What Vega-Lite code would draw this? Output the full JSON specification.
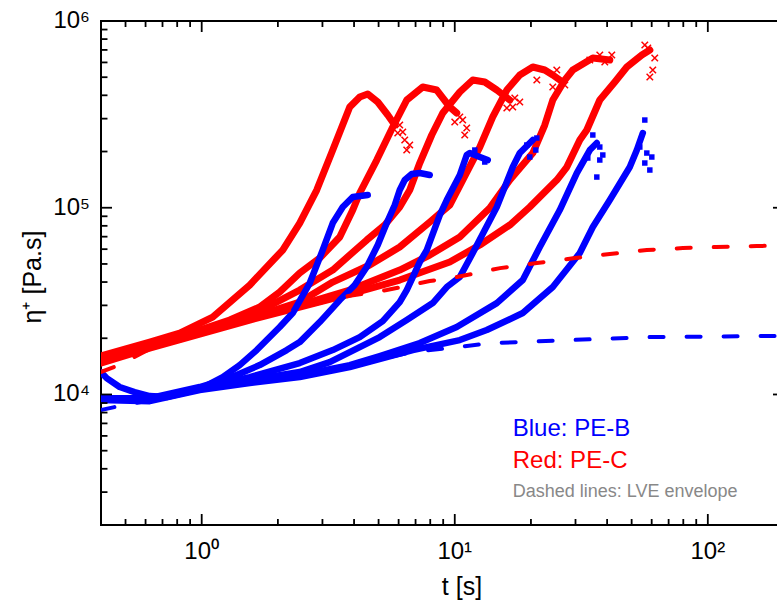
{
"$schema": "https://vega.github.io/schema/vega-lite/v6.json",
"width": 683, "height": 504,
"autosize": "none",
"padding": {"left": 101, "top": 21, "right": 0, "bottom": 88},
"background": "white",
"config": {"view": {"stroke": "#000000", "strokeWidth": 2}, "font": "Liberation Sans"},
"datasets": {
"curves": [
{"s":"R1","k":"p","t":0.399,"e":16060},{"s":"R1","k":"p","t":0.623,"e":19080},{"s":"R1","k":"p","t":0.819,"e":21320},{"s":"R1","k":"p","t":1.105,"e":25970},{"s":"R1","k":"p","t":1.548,"e":38550},{"s":"R1","k":"p","t":2.09,"e":59340},{"s":"R1","k":"p","t":2.44,"e":82800},{"s":"R1","k":"p","t":2.848,"e":124400},{"s":"R1","k":"p","t":3.295,"e":203700},{"s":"R1","k":"p","t":3.846,"e":346300},{"s":"R1","k":"p","t":4.213,"e":391700},{"s":"R1","k":"p","t":4.53,"e":406500},{"s":"R1","k":"p","t":4.962,"e":368300},{"s":"R1","k":"p","t":5.436,"e":313800},{"s":"R1","k":"p","t":5.793,"e":277300},
{"s":"R1","k":"x","t":6.061,"e":277300},{"s":"R1","k":"x","t":6.343,"e":230500},{"s":"R1","k":"x","t":6.639,"e":216700},{"s":"R1","k":"x","t":6.46,"e":203700},{"s":"R1","k":"x","t":5.953,"e":251300},{"s":"R1","k":"x","t":6.231,"e":254400},
{"s":"R2","k":"p","t":0.399,"e":15670},{"s":"R2","k":"p","t":0.623,"e":18620},{"s":"R2","k":"p","t":0.982,"e":22130},{"s":"R2","k":"p","t":1.29,"e":25030},{"s":"R2","k":"p","t":1.695,"e":29380},{"s":"R2","k":"p","t":2.034,"e":35360},{"s":"R2","k":"p","t":2.44,"e":44710},{"s":"R2","k":"p","t":2.927,"e":53780},{"s":"R2","k":"p","t":3.512,"e":69700},{"s":"R2","k":"p","t":3.953,"e":97200},{"s":"R2","k":"p","t":4.213,"e":119900},{"s":"R2","k":"p","t":4.917,"e":180100},{"s":"R2","k":"p","t":5.688,"e":270500},{"s":"R2","k":"p","t":6.46,"e":377500},{"s":"R2","k":"p","t":7.473,"e":443100},{"s":"R2","k":"p","t":8.489,"e":427000},{"s":"R2","k":"p","t":9.555,"e":346300},{"s":"R2","k":"p","t":10.18,"e":321600},
{"s":"R2","k":"x","t":10.47,"e":306200},{"s":"R2","k":"x","t":10.75,"e":294900},{"s":"R2","k":"x","t":11.15,"e":267300},{"s":"R2","k":"x","t":10.0,"e":287700},{"s":"R2","k":"x","t":10.95,"e":245200},
{"s":"R3","k":"p","t":0.399,"e":15290},{"s":"R3","k":"p","t":0.623,"e":18160},{"s":"R3","k":"p","t":0.982,"e":21590},{"s":"R3","k":"p","t":1.548,"e":26300},{"s":"R3","k":"p","t":2.44,"e":36240},{"s":"R3","k":"p","t":3.295,"e":46390},{"s":"R3","k":"p","t":4.489,"e":67140},{"s":"R3","k":"p","t":5.289,"e":80800},{"s":"R3","k":"p","t":6.061,"e":100900},{"s":"R3","k":"p","t":6.639,"e":124400},{"s":"R3","k":"p","t":7.272,"e":173600},{"s":"R3","k":"p","t":8.11,"e":245200},{"s":"R3","k":"p","t":8.966,"e":321600},{"s":"R3","k":"p","t":10.47,"e":416700},{"s":"R3","k":"p","t":11.78,"e":483100},{"s":"R3","k":"p","t":13.14,"e":471300},{"s":"R3","k":"p","t":14.66,"e":427000},{"s":"R3","k":"p","t":16.5,"e":377500},
{"s":"R3","k":"x","t":16.95,"e":346300},{"s":"R3","k":"x","t":16.06,"e":342000},{"s":"R3","k":"x","t":17.27,"e":387000},{"s":"R3","k":"x","t":18.07,"e":368300},
{"s":"R4","k":"p","t":0.399,"e":15100},{"s":"R4","k":"p","t":0.623,"e":18160},{"s":"R4","k":"p","t":0.982,"e":21320},{"s":"R4","k":"p","t":1.548,"e":25660},{"s":"R4","k":"p","t":2.44,"e":31250},{"s":"R4","k":"p","t":3.295,"e":39990},{"s":"R4","k":"p","t":4.613,"e":49340},{"s":"R4","k":"p","t":6.061,"e":61600},{"s":"R4","k":"p","t":7.964,"e":83800},{"s":"R4","k":"p","t":9.555,"e":103400},{"s":"R4","k":"p","t":10.75,"e":140700},{"s":"R4","k":"p","t":12.56,"e":211400},{"s":"R4","k":"p","t":14.13,"e":306200},{"s":"R4","k":"p","t":16.06,"e":427000},{"s":"R4","k":"p","t":18.07,"e":513800},{"s":"R4","k":"p","t":20.34,"e":567100},{"s":"R4","k":"p","t":22.68,"e":546500},{"s":"R4","k":"p","t":24.4,"e":513800},{"s":"R4","k":"p","t":26.0,"e":483100},
{"s":"R4","k":"x","t":25.3,"e":546500},{"s":"R4","k":"x","t":24.4,"e":443100},{"s":"R4","k":"x","t":21.1,"e":483100},{"s":"R4","k":"x","t":27.22,"e":454200},
{"s":"R5","k":"p","t":0.399,"e":14910},{"s":"R5","k":"p","t":0.623,"e":17940},{"s":"R5","k":"p","t":0.982,"e":21320},{"s":"R5","k":"p","t":1.548,"e":25660},{"s":"R5","k":"p","t":2.44,"e":30120},{"s":"R5","k":"p","t":3.846,"e":36240},{"s":"R5","k":"p","t":6.061,"e":46390},{"s":"R5","k":"p","t":7.964,"e":55800},{"s":"R5","k":"p","t":10.47,"e":69700},{"s":"R5","k":"p","t":13.75,"e":99600},{"s":"R5","k":"p","t":16.5,"e":140700},{"s":"R5","k":"p","t":20.34,"e":196300},{"s":"R5","k":"p","t":22.68,"e":277300},{"s":"R5","k":"p","t":24.4,"e":377500},{"s":"R5","k":"p","t":27.22,"e":483100},{"s":"R5","k":"p","t":29.27,"e":546500},{"s":"R5","k":"p","t":35.12,"e":633800},{"s":"R5","k":"p","t":40.99,"e":618300},
{"s":"R5","k":"x","t":37.42,"e":657600},{"s":"R5","k":"x","t":39.16,"e":603000},{"s":"R5","k":"x","t":34.17,"e":618300},{"s":"R5","k":"x","t":41.74,"e":657600},
{"s":"R6","k":"p","t":0.399,"e":14730},{"s":"R6","k":"p","t":0.623,"e":17720},{"s":"R6","k":"p","t":0.982,"e":21060},{"s":"R6","k":"p","t":1.548,"e":25030},{"s":"R6","k":"p","t":2.44,"e":29380},{"s":"R6","k":"p","t":3.846,"e":34500},{"s":"R6","k":"p","t":6.061,"e":41010},{"s":"R6","k":"p","t":9.555,"e":51200},{"s":"R6","k":"p","t":12.56,"e":63140},{"s":"R6","k":"p","t":16.5,"e":80800},{"s":"R6","k":"p","t":19.79,"e":100900},{"s":"R6","k":"p","t":25.3,"e":140700},{"s":"R6","k":"p","t":27.72,"e":165200},{"s":"R6","k":"p","t":31.2,"e":230500},{"s":"R6","k":"p","t":33.25,"e":260800},{"s":"R6","k":"p","t":37.42,"e":377500},{"s":"R6","k":"p","t":42.9,"e":471300},{"s":"R6","k":"p","t":47.85,"e":567100},{"s":"R6","k":"p","t":54.85,"e":657600},{"s":"R6","k":"p","t":59.0,"e":699500},
{"s":"R6","k":"x","t":56.36,"e":743700},{"s":"R6","k":"x","t":60.6,"e":546500},{"s":"R6","k":"x","t":59.0,"e":501200},{"s":"R6","k":"x","t":57.9,"e":716900},{"s":"R6","k":"x","t":61.7,"e":633800},
{"s":"B1","k":"p","t":0.399,"e":13180},{"s":"B1","k":"p","t":0.421,"e":12240},{"s":"B1","k":"p","t":0.474,"e":10960},{"s":"B1","k":"p","t":0.543,"e":10300},{"s":"B1","k":"p","t":0.623,"e":9800},{"s":"B1","k":"p","t":0.727,"e":9680},{"s":"B1","k":"p","t":0.982,"e":10690},{"s":"B1","k":"p","t":1.211,"e":12390},{"s":"B1","k":"p","t":1.413,"e":14370},{"s":"B1","k":"p","t":1.65,"e":17290},{"s":"B1","k":"p","t":1.807,"e":19560},{"s":"B1","k":"p","t":2.034,"e":22960},{"s":"B1","k":"p","t":2.289,"e":27290},{"s":"B1","k":"p","t":2.673,"e":39520},{"s":"B1","k":"p","t":3.008,"e":59340},{"s":"B1","k":"p","t":3.295,"e":82800},{"s":"B1","k":"p","t":3.609,"e":100900},{"s":"B1","k":"p","t":3.953,"e":114100},{"s":"B1","k":"p","t":4.53,"e":116900},
{"s":"B2","k":"p","t":0.399,"e":9560},{"s":"B2","k":"p","t":0.623,"e":9560},{"s":"B2","k":"p","t":0.982,"e":10960},{"s":"B2","k":"p","t":1.29,"e":12240},{"s":"B2","k":"p","t":1.695,"e":14370},{"s":"B2","k":"p","t":2.168,"e":17290},{"s":"B2","k":"p","t":2.44,"e":19080},{"s":"B2","k":"p","t":2.927,"e":24420},{"s":"B2","k":"p","t":3.512,"e":32030},{"s":"B2","k":"p","t":4.025,"e":38550},{"s":"B2","k":"p","t":4.489,"e":48140},{"s":"B2","k":"p","t":4.962,"e":63140},{"s":"B2","k":"p","t":5.386,"e":82800},{"s":"B2","k":"p","t":5.793,"e":103400},{"s":"B2","k":"p","t":6.061,"e":124400},{"s":"B2","k":"p","t":6.343,"e":140700},{"s":"B2","k":"p","t":6.761,"e":151500},{"s":"B2","k":"p","t":7.272,"e":153400},{"s":"B2","k":"p","t":7.964,"e":149700},
{"s":"B3","k":"p","t":0.399,"e":9560},{"s":"B3","k":"p","t":0.623,"e":9450},{"s":"B3","k":"p","t":0.982,"e":10820},{"s":"B3","k":"p","t":1.548,"e":12390},{"s":"B3","k":"p","t":2.44,"e":14730},{"s":"B3","k":"p","t":3.295,"e":17290},{"s":"B3","k":"p","t":4.213,"e":20290},{"s":"B3","k":"p","t":5.193,"e":24730},{"s":"B3","k":"p","t":6.061,"e":31250},{"s":"B3","k":"p","t":6.46,"e":36240},{"s":"B3","k":"p","t":7.272,"e":51200},{"s":"B3","k":"p","t":7.75,"e":59340},{"s":"B3","k":"p","t":8.724,"e":91400},{"s":"B3","k":"p","t":9.298,"e":110000},{"s":"B3","k":"p","t":10.47,"e":149700},{"s":"B3","k":"p","t":11.15,"e":191600},{"s":"B3","k":"p","t":11.47,"e":196300},{"s":"B3","k":"p","t":12.56,"e":186900},{"s":"B3","k":"p","t":13.5,"e":180100},
{"s":"B3","k":"x","t":12.0,"e":203700},{"s":"B3","k":"x","t":13.14,"e":175700},
{"s":"B4","k":"p","t":0.399,"e":9450},{"s":"B4","k":"p","t":0.623,"e":9450},{"s":"B4","k":"p","t":0.982,"e":10820},{"s":"B4","k":"p","t":1.548,"e":11940},{"s":"B4","k":"p","t":2.44,"e":13180},{"s":"B4","k":"p","t":3.205,"e":14910},{"s":"B4","k":"p","t":4.213,"e":17940},{"s":"B4","k":"p","t":5.053,"e":20290},{"s":"B4","k":"p","t":6.46,"e":25030},{"s":"B4","k":"p","t":8.185,"e":30860},{"s":"B4","k":"p","t":9.298,"e":37610},{"s":"B4","k":"p","t":10.47,"e":42550},{"s":"B4","k":"p","t":11.78,"e":57190},{"s":"B4","k":"p","t":13.14,"e":75970},{"s":"B4","k":"p","t":14.66,"e":100900},{"s":"B4","k":"p","t":16.95,"e":165200},{"s":"B4","k":"p","t":18.07,"e":196300},{"s":"B4","k":"p","t":20.34,"e":230500},
{"s":"B4","k":"x","t":19.26,"e":216700},{"s":"B4","k":"x","t":20.9,"e":203700},{"s":"B4","k":"x","t":19.79,"e":186900},{"s":"B4","k":"x","t":21.1,"e":236200},
{"s":"B5","k":"p","t":0.399,"e":9450},{"s":"B5","k":"p","t":0.623,"e":9330},{"s":"B5","k":"p","t":0.982,"e":10690},{"s":"B5","k":"p","t":1.548,"e":11800},{"s":"B5","k":"p","t":2.44,"e":12700},{"s":"B5","k":"p","t":3.846,"e":14370},{"s":"B5","k":"p","t":5.053,"e":16060},{"s":"B5","k":"p","t":7.272,"e":18850},{"s":"B5","k":"p","t":10.18,"e":22960},{"s":"B5","k":"p","t":14.66,"e":30860},{"s":"B5","k":"p","t":18.57,"e":41010},{"s":"B5","k":"p","t":21.68,"e":61600},{"s":"B5","k":"p","t":26.0,"e":97200},{"s":"B5","k":"p","t":30.36,"e":153400},{"s":"B5","k":"p","t":34.17,"e":203700},{"s":"B5","k":"p","t":36.42,"e":222100},
{"s":"B5","k":"x","t":37.42,"e":211400},{"s":"B5","k":"x","t":35.12,"e":245200},{"s":"B5","k":"x","t":37.42,"e":180100},{"s":"B5","k":"x","t":36.42,"e":146000},{"s":"B5","k":"x","t":38.46,"e":191600},{"s":"B5","k":"x","t":33.55,"e":184600},
{"s":"B6","k":"p","t":0.399,"e":9330},{"s":"B6","k":"p","t":0.623,"e":9210},{"s":"B6","k":"p","t":0.982,"e":10560},{"s":"B6","k":"p","t":1.548,"e":11510},{"s":"B6","k":"p","t":2.44,"e":12390},{"s":"B6","k":"p","t":3.846,"e":14020},{"s":"B6","k":"p","t":6.823,"e":17290},{"s":"B6","k":"p","t":10.47,"e":19560},{"s":"B6","k":"p","t":13.38,"e":22130},{"s":"B6","k":"p","t":18.57,"e":27290},{"s":"B6","k":"p","t":24.4,"e":37610},{"s":"B6","k":"p","t":31.2,"e":57190},{"s":"B6","k":"p","t":35.12,"e":78800},{"s":"B6","k":"p","t":40.99,"e":110000},{"s":"B6","k":"p","t":49.17,"e":165200},{"s":"B6","k":"p","t":52.42,"e":203700},{"s":"B6","k":"p","t":55.35,"e":251300},
{"s":"B6","k":"x","t":56.36,"e":294900},{"s":"B6","k":"x","t":53.86,"e":211400},{"s":"B6","k":"x","t":57.4,"e":196300},{"s":"B6","k":"x","t":59.0,"e":159200},{"s":"B6","k":"x","t":56.36,"e":173600},{"s":"B6","k":"x","t":60.07,"e":186900}
],
"lve": [
{"s":"LR","t":0.399,"e":13180},{"s":"LR","t":0.461,"e":14190},{"s":"LR","t":0.623,"e":17500},{"s":"LR","t":0.982,"e":20900},{"s":"LR","t":1.548,"e":24900},{"s":"LR","t":2.44,"e":29200},{"s":"LR","t":3.846,"e":33800},{"s":"LR","t":5.386,"e":36240},{"s":"LR","t":7.964,"e":40500},{"s":"LR","t":10.18,"e":42550},{"s":"LR","t":15.1,"e":47500},{"s":"LR","t":21.1,"e":50560},{"s":"LR","t":29.8,"e":53780},{"s":"LR","t":41.0,"e":56490},{"s":"LR","t":57.4,"e":59340},{"s":"LR","t":79.7,"e":60840},{"s":"LR","t":108,"e":61600},{"s":"LR","t":156,"e":62400},{"s":"LR","t":200,"e":62700},
{"s":"LB","t":0.399,"e":8250},{"s":"LB","t":0.453,"e":8560},{"s":"LB","t":0.623,"e":9300},{"s":"LB","t":0.982,"e":10560},{"s":"LB","t":1.548,"e":11510},{"s":"LB","t":2.44,"e":12500},{"s":"LB","t":3.846,"e":14300},{"s":"LB","t":6.823,"e":16870},{"s":"LB","t":10.18,"e":17940},{"s":"LB","t":14.1,"e":18850},{"s":"LB","t":28.5,"e":19560},{"s":"LB","t":59,"e":20290},{"s":"LB","t":163,"e":20550},{"s":"LB","t":200,"e":20600}
],
"xmaj": [{"t": 1, "lab": "10⁰"}, {"t": 10, "lab": "10¹"}, {"t": 100, "lab": "10²"}],
"xmin": [{"t":0.5},{"t":0.6},{"t":0.7},{"t":0.8},{"t":0.9},{"t":2},{"t":3},{"t":4},{"t":5},{"t":6},{"t":7},{"t":8},{"t":9},{"t":20},{"t":30},{"t":40},{"t":50},{"t":60},{"t":70},{"t":80},{"t":90}],
"ymaj": [{"e": 10000, "lab": "10⁴"}, {"e": 100000, "lab": "10⁵"}, {"e": 1000000, "lab": "10⁶"}],
"ymin": [{"e":3000},{"e":4000},{"e":5000},{"e":6000},{"e":7000},{"e":8000},{"e":9000},{"e":20000},{"e":30000},{"e":40000},{"e":50000},{"e":60000},{"e":70000},{"e":80000},{"e":90000},{"e":200000},{"e":300000},{"e":400000},{"e":500000},{"e":600000},{"e":700000},{"e":800000},{"e":900000}]
},
"layer": [
{
"data": {"name": "curves"},
"transform": [{"filter": "datum.k == 'p' && indexof(datum.s, 'R') == 0"}],
"mark": {"type": "line", "stroke": "#ff0000", "strokeWidth": 7, "clip": true, "strokeJoin": "round", "strokeCap": "round"},
"encoding": {
"x": {"field": "t", "type": "quantitative", "scale": {"type": "log", "domain": [0.4, 200], "nice": false}, "axis": null},
"y": {"field": "e", "type": "quantitative", "scale": {"type": "log", "domain": [2000, 1000000], "nice": false}, "axis": null},
"detail": {"field": "s"}
}
},
{
"data": {"name": "curves"},
"transform": [{"filter": "datum.k == 'x' && indexof(datum.s, 'R') == 0"}],
"mark": {"type": "point", "shape": "M-1,-1L1,1M-1,1L1,-1", "filled": false, "stroke": "#ff0000", "strokeWidth": 1.5, "size": 42, "opacity": 1, "clip": true},
"encoding": {
"x": {"field": "t", "type": "quantitative", "scale": {"type": "log", "domain": [0.4, 200], "nice": false}, "axis": null},
"y": {"field": "e", "type": "quantitative", "scale": {"type": "log", "domain": [2000, 1000000], "nice": false}, "axis": null}
}
},
{
"data": {"name": "curves"},
"transform": [{"filter": "datum.k == 'p' && indexof(datum.s, 'B') == 0"}],
"mark": {"type": "line", "stroke": "#0000ff", "strokeWidth": 6.5, "clip": true, "strokeJoin": "round", "strokeCap": "round"},
"encoding": {
"x": {"field": "t", "type": "quantitative", "scale": {"type": "log", "domain": [0.4, 200], "nice": false}, "axis": null},
"y": {"field": "e", "type": "quantitative", "scale": {"type": "log", "domain": [2000, 1000000], "nice": false}, "axis": null},
"detail": {"field": "s"}
}
},
{
"data": {"name": "curves"},
"transform": [{"filter": "datum.k == 'x' && indexof(datum.s, 'B') == 0"}],
"mark": {"type": "point", "shape": "square", "filled": true, "color": "#0000ff", "size": 30, "opacity": 1, "clip": true},
"encoding": {
"x": {"field": "t", "type": "quantitative", "scale": {"type": "log", "domain": [0.4, 200], "nice": false}, "axis": null},
"y": {"field": "e", "type": "quantitative", "scale": {"type": "log", "domain": [2000, 1000000], "nice": false}, "axis": null}
}
},
{
"data": {"name": "lve"},
"mark": {"type": "line", "strokeWidth": 4, "strokeDash": [14, 23], "strokeCap": "round", "clip": true},
"encoding": {
"x": {"field": "t", "type": "quantitative", "scale": {"type": "log", "domain": [0.4, 200], "nice": false}, "axis": null},
"y": {"field": "e", "type": "quantitative", "scale": {"type": "log", "domain": [2000, 1000000], "nice": false}, "axis": null},
"detail": {"field": "s"},
"color": {"field": "s", "type": "nominal", "scale": {"domain": ["LR", "LB"], "range": ["#ff0000", "#0000ff"]}, "legend": null}
}
},
{
"data": {"name": "xmaj"},
"mark": {"type": "rule", "stroke": "#000000", "strokeWidth": 1.8},
"encoding": {
"x": {"field": "t", "type": "quantitative", "scale": {"type": "log", "domain": [0.4, 200], "nice": false}, "axis": null},
"y": {"datum": 2000, "type": "quantitative", "scale": {"type": "log", "domain": [2000, 1000000], "nice": false}, "axis": null},
"y2": {"datum": 2290}
}
},
{
"data": {"name": "xmaj"},
"mark": {"type": "rule", "stroke": "#000000", "strokeWidth": 1.8},
"encoding": {
"x": {"field": "t", "type": "quantitative", "scale": {"type": "log", "domain": [0.4, 200], "nice": false}, "axis": null},
"y": {"datum": 1000000, "type": "quantitative", "scale": {"type": "log", "domain": [2000, 1000000], "nice": false}, "axis": null},
"y2": {"datum": 873400}
}
},
{
"data": {"name": "xmin"},
"mark": {"type": "rule", "stroke": "#000000", "strokeWidth": 1.8},
"encoding": {
"x": {"field": "t", "type": "quantitative", "scale": {"type": "log", "domain": [0.4, 200], "nice": false}, "axis": null},
"y": {"datum": 2000, "type": "quantitative", "scale": {"type": "log", "domain": [2000, 1000000], "nice": false}, "axis": null},
"y2": {"datum": 2154}
}
},
{
"data": {"name": "xmin"},
"mark": {"type": "rule", "stroke": "#000000", "strokeWidth": 1.8},
"encoding": {
"x": {"field": "t", "type": "quantitative", "scale": {"type": "log", "domain": [0.4, 200], "nice": false}, "axis": null},
"y": {"datum": 1000000, "type": "quantitative", "scale": {"type": "log", "domain": [2000, 1000000], "nice": false}, "axis": null},
"y2": {"datum": 928600}
}
},
{
"data": {"name": "ymaj"},
"mark": {"type": "rule", "stroke": "#000000", "strokeWidth": 1.8},
"encoding": {
"y": {"field": "e", "type": "quantitative", "scale": {"type": "log", "domain": [2000, 1000000], "nice": false}, "axis": null},
"x": {"datum": 0.4, "type": "quantitative", "scale": {"type": "log", "domain": [0.4, 200], "nice": false}, "axis": null},
"x2": {"datum": 0.4421}
}
},
{
"data": {"name": "ymaj"},
"mark": {"type": "rule", "stroke": "#000000", "strokeWidth": 1.8},
"encoding": {
"y": {"field": "e", "type": "quantitative", "scale": {"type": "log", "domain": [2000, 1000000], "nice": false}, "axis": null},
"x": {"datum": 200, "type": "quantitative", "scale": {"type": "log", "domain": [0.4, 200], "nice": false}, "axis": null},
"x2": {"datum": 180.9}
}
},
{
"data": {"name": "ymin"},
"mark": {"type": "rule", "stroke": "#000000", "strokeWidth": 1.8},
"encoding": {
"y": {"field": "e", "type": "quantitative", "scale": {"type": "log", "domain": [2000, 1000000], "nice": false}, "axis": null},
"x": {"datum": 0.4, "type": "quantitative", "scale": {"type": "log", "domain": [0.4, 200], "nice": false}, "axis": null},
"x2": {"datum": 0.4243}
}
},
{
"data": {"name": "ymin"},
"mark": {"type": "rule", "stroke": "#000000", "strokeWidth": 1.8},
"encoding": {
"y": {"field": "e", "type": "quantitative", "scale": {"type": "log", "domain": [2000, 1000000], "nice": false}, "axis": null},
"x": {"datum": 200, "type": "quantitative", "scale": {"type": "log", "domain": [0.4, 200], "nice": false}, "axis": null},
"x2": {"datum": 188.6}
}
},
{
"data": {"name": "xmaj"},
"mark": {"type": "text", "align": "center", "baseline": "alphabetic", "font": "Liberation Sans", "fontSize": 24, "color": "#000000"},
"encoding": {
"x": {"field": "t", "type": "quantitative", "scale": {"type": "log", "domain": [0.4, 200], "nice": false}, "axis": null},
"y": {"datum": 1315, "type": "quantitative", "scale": {"type": "log", "domain": [2000, 1000000], "nice": false}, "axis": null},
"text": {"field": "lab"}
}
},
{
"data": {"name": "ymaj"},
"mark": {"type": "text", "align": "right", "baseline": "middle", "font": "Liberation Sans", "fontSize": 24, "color": "#000000"},
"encoding": {
"y": {"field": "e", "type": "quantitative", "scale": {"type": "log", "domain": [2000, 1000000], "nice": false}, "axis": null},
"x": {"datum": 0.3619, "type": "quantitative", "scale": {"type": "log", "domain": [0.4, 200], "nice": false}, "axis": null},
"text": {"field": "lab"}
}
},
{
"data": {"values": [{"t": 10.68, "e": 843.5, "txt": "t [s]"}]},
"mark": {"type": "text", "align": "center", "baseline": "alphabetic", "font": "Liberation Sans", "fontSize": 25, "color": "#000000"},
"encoding": {
"x": {"field": "t", "type": "quantitative", "scale": {"type": "log", "domain": [0.4, 200], "nice": false}, "axis": null},
"y": {"field": "e", "type": "quantitative", "scale": {"type": "log", "domain": [2000, 1000000], "nice": false}, "axis": null},
"text": {"field": "txt"}
}
},
{
"data": {"values": [{"t": 0.2317, "e": 42550, "txt": "η⁺ [Pa.s]"}]},
"mark": {"type": "text", "align": "center", "baseline": "alphabetic", "angle": 270, "font": "Liberation Sans", "fontSize": 25, "color": "#000000"},
"encoding": {
"x": {"field": "t", "type": "quantitative", "scale": {"type": "log", "domain": [0.4, 200], "nice": false}, "axis": null},
"y": {"field": "e", "type": "quantitative", "scale": {"type": "log", "domain": [2000, 1000000], "nice": false}, "axis": null},
"text": {"field": "txt"}
}
},
{
"data": {"values": [{"t": 16.95, "e": 5986, "txt": "Blue: PE-B"}]},
"mark": {"type": "text", "align": "left", "baseline": "alphabetic", "font": "Liberation Sans", "fontSize": 24, "color": "#0000ff"},
"encoding": {
"x": {"field": "t", "type": "quantitative", "scale": {"type": "log", "domain": [0.4, 200], "nice": false}, "axis": null},
"y": {"field": "e", "type": "quantitative", "scale": {"type": "log", "domain": [2000, 1000000], "nice": false}, "axis": null},
"text": {"field": "txt"}
}
},
{
"data": {"values": [{"t": 16.95, "e": 4035, "txt": "Red: PE-C"}]},
"mark": {"type": "text", "align": "left", "baseline": "alphabetic", "font": "Liberation Sans", "fontSize": 24, "color": "#ff0000"},
"encoding": {
"x": {"field": "t", "type": "quantitative", "scale": {"type": "log", "domain": [0.4, 200], "nice": false}, "axis": null},
"y": {"field": "e", "type": "quantitative", "scale": {"type": "log", "domain": [2000, 1000000], "nice": false}, "axis": null},
"text": {"field": "txt"}
}
},
{
"data": {"values": [{"t": 16.95, "e": 2821, "txt": "Dashed lines: LVE envelope"}]},
"mark": {"type": "text", "align": "left", "baseline": "alphabetic", "font": "Liberation Sans", "fontSize": 18, "color": "#888888"},
"encoding": {
"x": {"field": "t", "type": "quantitative", "scale": {"type": "log", "domain": [0.4, 200], "nice": false}, "axis": null},
"y": {"field": "e", "type": "quantitative", "scale": {"type": "log", "domain": [2000, 1000000], "nice": false}, "axis": null},
"text": {"field": "txt"}
}
}
]
}
